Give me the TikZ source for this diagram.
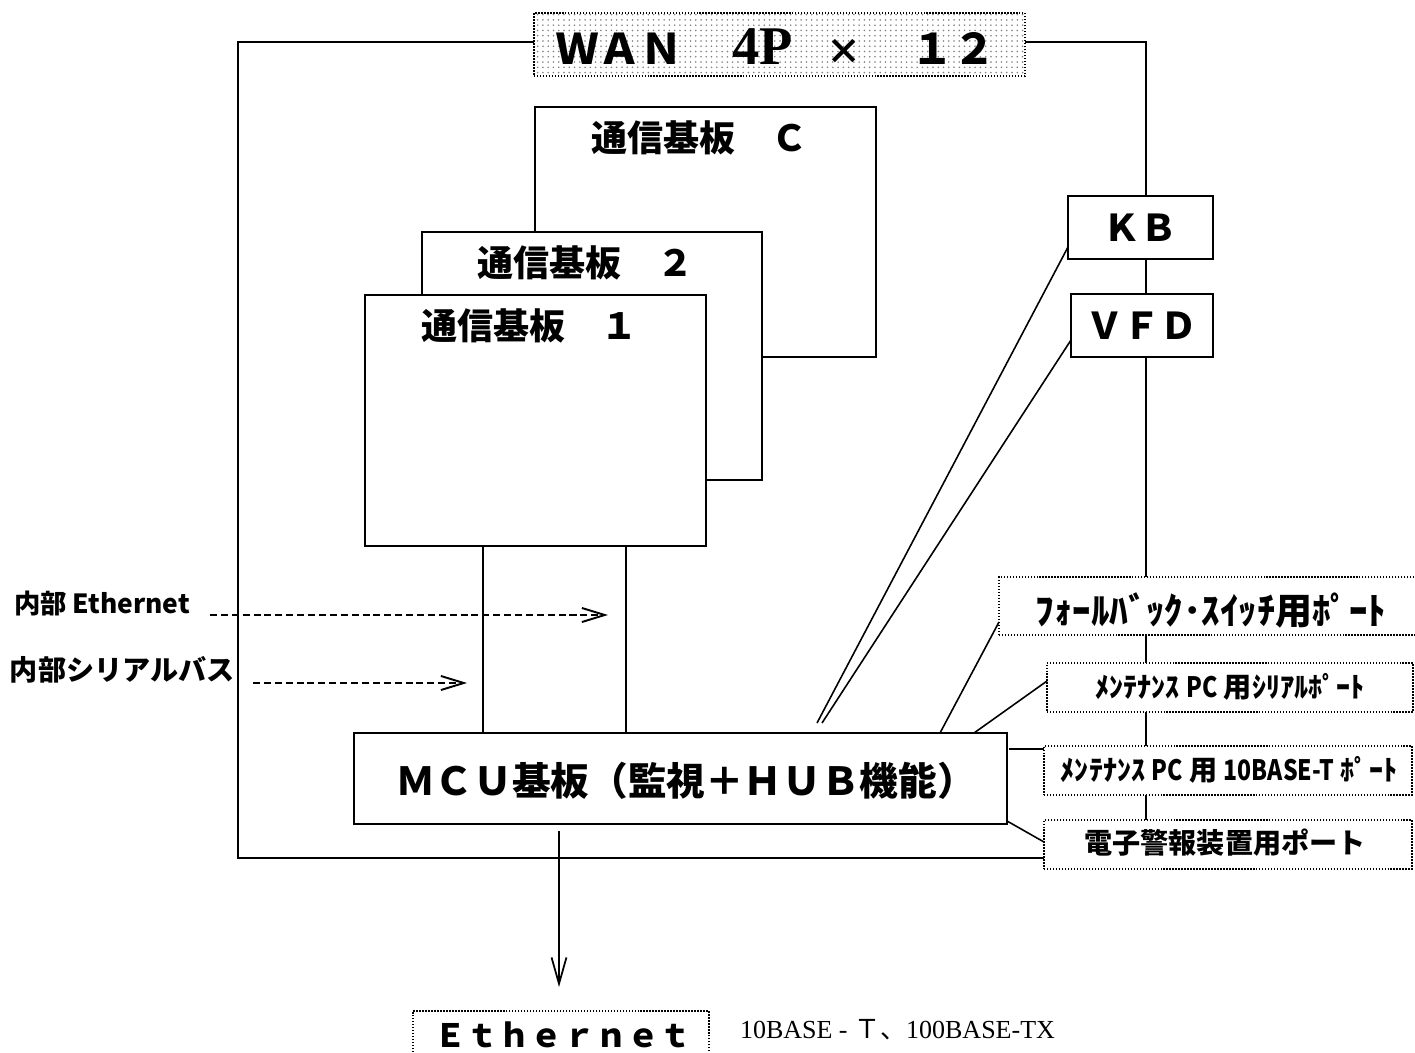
\documentclass[tikz,border=0pt]{standalone}
\usepackage{fontspec}
\setmainfont{Liberation Serif}
\newfontfamily\jp{Noto Sans CJK JP}
\newfontfamily\jpc[FakeStretch=0.82]{Noto Sans CJK JP}
\usetikzlibrary{fit,patterns,arrows.meta}
\begin{document}
\begin{tikzpicture}[x=0.02cm,y=-0.02cm,
  every node/.style={inner sep=0pt, outer sep=0pt},
  box/.style={draw, line width=1.1pt, fill=white},
  dbox/.style={draw, line width=0.9pt, dash pattern=on 0.8pt off 0.9pt, fill=white},
  ln/.style={line width=1pt},
  dln/.style={line width=0.9pt, dash pattern=on 4pt off 2.2pt},
  tip/.style={-{Straight Barb[length=13pt,width=8pt,line width=1.1pt]}},
  ]
\useasboundingbox (0,0) rectangle (1415,1053);
% outer frame
\draw[line width=1.1pt] (238,42) rectangle (1146,858);
% WAN box
\node[draw, line width=0.9pt, dash pattern=on 0.8pt off 0.9pt,
      preaction={fill=white}, pattern=dots, pattern color=black!50,
      fit={(534,13) (1025,76)}] (wan) {};
\node[anchor=west, font=\jp\bfseries\fontsize{24}{28}\selectfont] (wantxt) at (556,47)
  {ＷＡＮ\hspace{1.0cm}{\rmfamily\bfseries\fontsize{31}{30}\selectfont 4P}\hspace{0.68cm}{\fontsize{20}{24}\selectfont×}\hspace{0.98cm}１２};
% boards
\node[box, fit={(535,107) (876,357)}] (bC) {};
\node[box, fit={(422,232) (762,480)}] (b2) {};
\node[box, fit={(365,295) (706,546)}] (b1) {};
\node[font=\jp\bfseries\fontsize{20.5}{24}\selectfont, anchor=west] (tC) at (591,138) {通信基板　Ｃ};
\node[font=\jp\bfseries\fontsize{20.5}{24}\selectfont, anchor=west] (t2) at (477,263) {通信基板　２};
\node[font=\jp\bfseries\fontsize{20.5}{24}\selectfont, anchor=west] (t1) at (421,326) {通信基板　１};
% KB / VFD
\node[box, fit={(1068,196) (1213,259)}] (kb) {};
\node[font=\jp\bfseries\fontsize{21}{24}\selectfont] at (kb.center) {ＫＢ};
\node[box, fit={(1071,294) (1213,357)}] (vfd) {};
\node[font=\jp\bfseries\fontsize{21}{24}\selectfont] at (vfd.center) {ＶＦＤ};
% MCU
\node[box, fit={(354,733) (1007,824)}] (mcu) {};
\node[font=\jp\bfseries\fontsize{22}{26}\selectfont] (mcut) at (686,781) {ＭＣＵ基板（監視＋ＨＵＢ機能）};
% port boxes
\node[dbox, fit={(999,577) (1430,635)}] (fb) {};
\node[dbox, fit={(1047,663) (1413,712)}] (ser) {};
\node[dbox, fit={(1044,746) (1412,795)}] (tb) {};
\node[dbox, fit={(1044,820) (1412,869)}] (ea) {};
\node[font=\jp\bfseries\fontsize{21}{24}\selectfont] at (1211,610) {ﾌｫｰﾙﾊﾞｯｸ･ｽｲｯﾁ用ﾎﾟｰﾄ};
\node[font=\jp\bfseries\fontsize{16}{20}\selectfont] at (1230,687) {ﾒﾝﾃﾅﾝｽ {\jpc\bfseries PC} 用ｼﾘｱﾙﾎﾟｰﾄ};
\node[font=\jp\bfseries\fontsize{16}{20}\selectfont] at (1229,770) {ﾒﾝﾃﾅﾝｽ {\jpc\bfseries PC} 用 {\jpc\bfseries 10BASE-T} ﾎﾟｰﾄ};
\node[font=\jp\bfseries\fontsize{16}{20}\selectfont] at (1225,843) {電子警報装置用ポート};
% Ethernet box
\node[dbox, fit={(413,1011) (709,1075)}] (eth) {};
\node[font=\jp\bfseries\fontsize{18.3}{22}\selectfont] at (563,1035) {Ｅｔｈｅｒｎｅｔ};
\node[anchor=west, font=\fontsize{14.8}{18}\selectfont] at (740,1030) {10BASE - {\jp Ｔ、}100BASE-TX};
% bus lines
\draw[ln] (b1.south -| 483,0) -- (mcu.north -| 483,0);
\draw[ln] (b1.south -| 626,0) -- (mcu.north -| 626,0);
% left labels
\node[anchor=west, font=\jp\bfseries\fontsize{15}{18}\selectfont] (le) at (14,604) {内部 Ethernet};
\node[anchor=west, font=\jp\bfseries\fontsize{16}{18}\selectfont] (ls) at (10,670) {内部シリアルバス};
\coordinate (le1) at (210,615); \coordinate (le2) at (608,615);
\coordinate (ls1) at (253,683); \coordinate (ls2) at (467,683);
\draw[dln, tip] (le1) -- (le2);
\draw[dln, tip] (ls1) -- (ls2);
% connectors from MCU
\coordinate (kbs) at (817,723); \coordinate (kbe) at (1068,247);
\coordinate (vfs) at (822,723); \coordinate (vfe) at (1071,340);
\draw[line width=0.9pt] (kbs) -- (kbe);
\draw[line width=0.9pt] (vfs) -- (vfe);
\draw[line width=0.9pt] (mcu.north -| 940,0) -- (fb.west |- 0,622);
\draw[line width=0.9pt] (mcu.north -| 974,0) -- (ser.west |- 0,681);
\draw[line width=1.1pt] (1009,749) -- (tb.west |- 0,749);
\draw[line width=0.9pt] (mcu.north east |- 0,821) -- (ea.west |- 0,842);
% down arrow
\coordinate (ds) at (559,831);
\coordinate (de) at (559,987);
\draw[ln, -{Straight Barb[length=15pt,width=8.5pt]}] (ds) -- (de);
\end{tikzpicture}
\end{document}
